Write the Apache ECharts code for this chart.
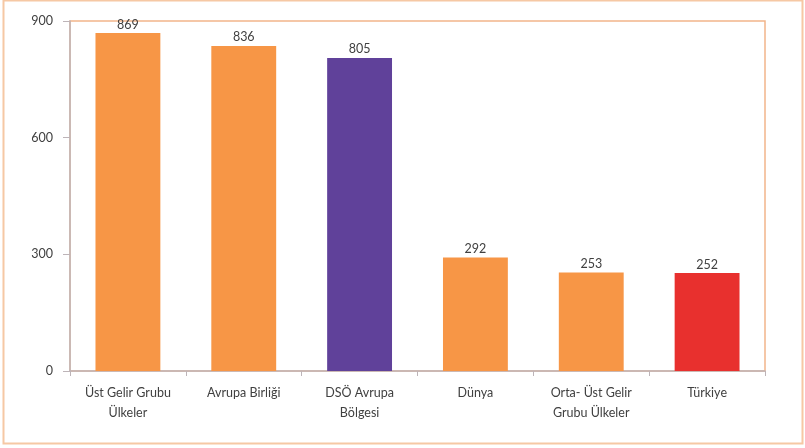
<!DOCTYPE html>
<html>
<head>
<meta charset="utf-8">
<script src="https://cdn.jsdelivr.net/npm/echarts@6/dist/echarts.min.js"></script>
<style>
html,body{margin:0;padding:0;background:#fff;}
#c{width:805px;height:448px;}
</style>
</head>
<body>
<div id="c"></div>
<script>
const categories = ['Üst Gelir Grubu\nÜlkeler', 'Avrupa Birliği', 'DSÖ Avrupa\nBölgesi', 'Dünya', 'Orta- Üst Gelir\nGrubu Ülkeler', 'Türkiye'];
const values = [869, 836, 805, 292, 253, 252];
const barColors = ['#F79646', '#F79646', '#60419A', '#F79646', '#F79646', '#E8302E'];
const yTicks = [0, 300, 600, 900];

const chart = echarts.init(document.getElementById('c'), null, {renderer: 'canvas'});
chart.setOption({
  animation: false,
  backgroundColor: '#fff',
  textStyle: {fontFamily: 'Lato'},
  graphic: [{
    type: 'rect',
    shape: {x: 3.5, y: 0.5, width: 799, height: 443},
    style: {fill: 'none', stroke: '#F6C8A4', lineWidth: 2},
    silent: true
  }],
  grid: {
    left: 70, right: 40, top: 21, bottom: 77,
    show: true, borderColor: '#F2B58A', borderWidth: 1.5
  },
  xAxis: {
    type: 'category',
    data: categories,
    axisLine: {lineStyle: {color: '#BDB4B8', width: 1.5}},
    axisTick: {show: true, alignWithLabel: false, length: 5, lineStyle: {color: '#BDB4B8'}},
    axisLabel: {color: '#404040', fontSize: 12.5, lineHeight: 20, margin: 12, interval: 0}
  },
  yAxis: {
    type: 'value',
    min: 0, max: 900, interval: 300,
    splitLine: {show: false},
    axisLine: {show: true, lineStyle: {color: '#BDB4B8', width: 1.5}},
    axisTick: {show: true, length: 7, lineStyle: {color: '#BDB4B8'}},
    axisLabel: {color: '#404040', fontSize: 12.5, margin: 17,
      formatter: v => yTicks.includes(v) ? String(v) : ''}
  },
  series: [{
    type: 'bar',
    barWidth: '56%',
    data: values.map((v, i) => ({value: v, itemStyle: {color: barColors[i]}})),
    label: {show: true, position: 'top', distance: 2, color: '#404040', fontSize: 12.5}
  }]
});
</script>
</body>
</html>
